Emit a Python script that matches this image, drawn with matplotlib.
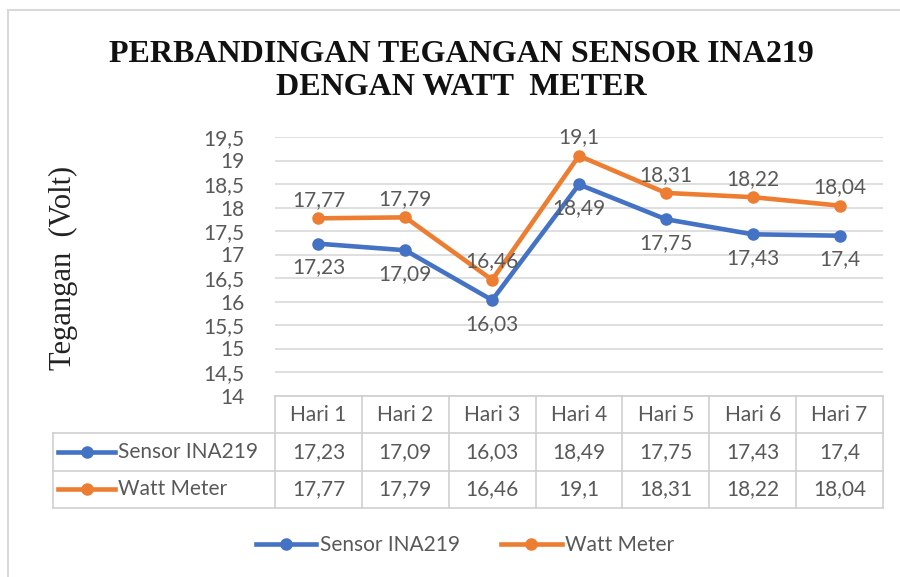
import matplotlib
matplotlib.use('Agg')
import matplotlib.pyplot as plt
from matplotlib.lines import Line2D
from matplotlib.patches import Rectangle

# data
days = ['Hari 1', 'Hari 2', 'Hari 3', 'Hari 4', 'Hari 5', 'Hari 6', 'Hari 7']
sensor = [17.23, 17.09, 16.03, 18.49, 17.75, 17.43, 17.4]
watt = [17.77, 17.79, 16.46, 19.1, 18.31, 18.22, 18.04]
series_names = ['Sensor INA219', 'Watt Meter']
yticks = [14, 14.5, 15, 15.5, 16, 16.5, 17, 17.5, 18, 18.5, 19, 19.5]

BLUE = '#4472C4'
ORANGE = '#ED7D31'
GRAY = '#595959'
GRID = '#D9D9D9'
CELL = '#CFCFCF'
SANS = 'Lato'
SERIF = 'Liberation Serif'

W, H = 900, 577


def fmt(v):
    return f"{v:g}".replace('.', ',')


fig = plt.figure(figsize=(W / 100, H / 100), dpi=100)
fig.patch.set_facecolor('white')

# chart area border (only left/top visible)
fig.patches.append(Rectangle((8 / W, -0.1), 1.2, 1 - 10 / H + 0.1, transform=fig.transFigure,
                             fill=False, edgecolor='#D9D9D9', lw=1.5))

# plot area in pixels
left, right, top, bottom = 275, 883, 137, 395.5
ax = fig.add_axes([left / W, 1 - bottom / H, (right - left) / W, (bottom - top) / H])
x = list(range(len(days)))
ax.plot(x, sensor, color=BLUE, lw=3.3, marker='o', ms=8, solid_joinstyle='round', zorder=3)
ax.plot(x, watt, color=ORANGE, lw=3.3, marker='o', ms=8, solid_joinstyle='round', zorder=3)
for i, v in enumerate(sensor):
    ax.annotate(fmt(v), (i, v), xytext=(0, -10), textcoords='offset points', ha='center', va='top',
                fontsize=15, color=GRAY, family=SANS, zorder=4)
for i, v in enumerate(watt):
    ax.annotate(fmt(v), (i, v), xytext=(0, 6), textcoords='offset points', ha='center', va='bottom',
                fontsize=15, color=GRAY, family=SANS, zorder=4)

ax.set_xlim(-0.5, len(days) - 0.5)
ax.set_ylim(14, 19.5)
ax.set_yticks(yticks)
ax.set_yticklabels([fmt(t) for t in yticks], fontsize=15, color=GRAY, family=SANS)
ax.set_xticks([])
ax.tick_params(axis='y', length=0, pad=22)
ax.grid(axis='y', color=GRID, lw=1.2)
ax.set_axisbelow(True)
for s in ax.spines.values():
    s.set_visible(False)
ax.patch.set_alpha(0)

fig.text(63 / W, 1 - 268 / H, 'Tegangan  (Volt)', rotation=90, ha='center', va='center',
         fontsize=22, family=SERIF, color='#222222')

fig.text(461 / W, 1 - 71 / H, 'PERBANDINGAN TEGANGAN SENSOR INA219\nDENGAN WATT  METER',
         ha='center', va='center', fontsize=23, fontweight='bold', family=SERIF,
         linespacing=1.2, color='#111111')

# data table
tl, tt, tb = 53, 396, 508
unit = (right - left) / len(days)


def px2x(px):
    return -0.5 + (px - left) / unit


tab = fig.add_axes([tl / W, 1 - tb / H, (right - tl) / W, (tb - tt) / H])
tab.set_xlim(px2x(tl), len(days) - 0.5)
tab.set_ylim(0, 3)
tab.axis('off')
x0 = px2x(tl)
xl = -0.5
xr = len(days) - 0.5
lw = 1.2
tab.plot([xl, xr], [3, 3], color=CELL, lw=lw, clip_on=False)
for yy in [2, 1, 0]:
    tab.plot([x0, xr], [yy, yy], color=CELL, lw=lw, clip_on=False)
tab.plot([x0, x0], [0, 2], color=CELL, lw=lw, clip_on=False)
for i in range(len(days) + 1):
    tab.plot([i - 0.5, i - 0.5], [0, 3], color=CELL, lw=lw, clip_on=False)

for i, d in enumerate(days):
    tab.text(i, 2.5, d, ha='center', va='center', fontsize=15, color=GRAY, family=SANS)
for row, (vals, c, name) in enumerate([(sensor, BLUE, series_names[0]), (watt, ORANGE, series_names[1])]):
    yc = 1.5 - row
    for i, v in enumerate(vals):
        tab.text(i, yc, fmt(v), ha='center', va='center', fontsize=15, color=GRAY, family=SANS)
    tab.plot([px2x(58), px2x(115)], [yc, yc], color=c, lw=3.3, clip_on=False)
    tab.plot([px2x(86.5)], [yc], color=c, marker='o', ms=8, clip_on=False)
    tab.text(px2x(118), yc, name, ha='left', va='center', fontsize=15, color=GRAY, family=SANS)

handles = [Line2D([], [], color=BLUE, lw=3.3, marker='o', ms=8),
           Line2D([], [], color=ORANGE, lw=3.3, marker='o', ms=8)]
fig.legend(handles, series_names, loc='center', bbox_to_anchor=(465 / W, 1 - 545 / H), ncol=2,
           frameon=False, handlelength=2.9, handletextpad=0.15, columnspacing=2.0,
           prop={'family': SANS, 'size': 15}, labelcolor=GRAY)

fig.savefig('out.png', dpi=100)
